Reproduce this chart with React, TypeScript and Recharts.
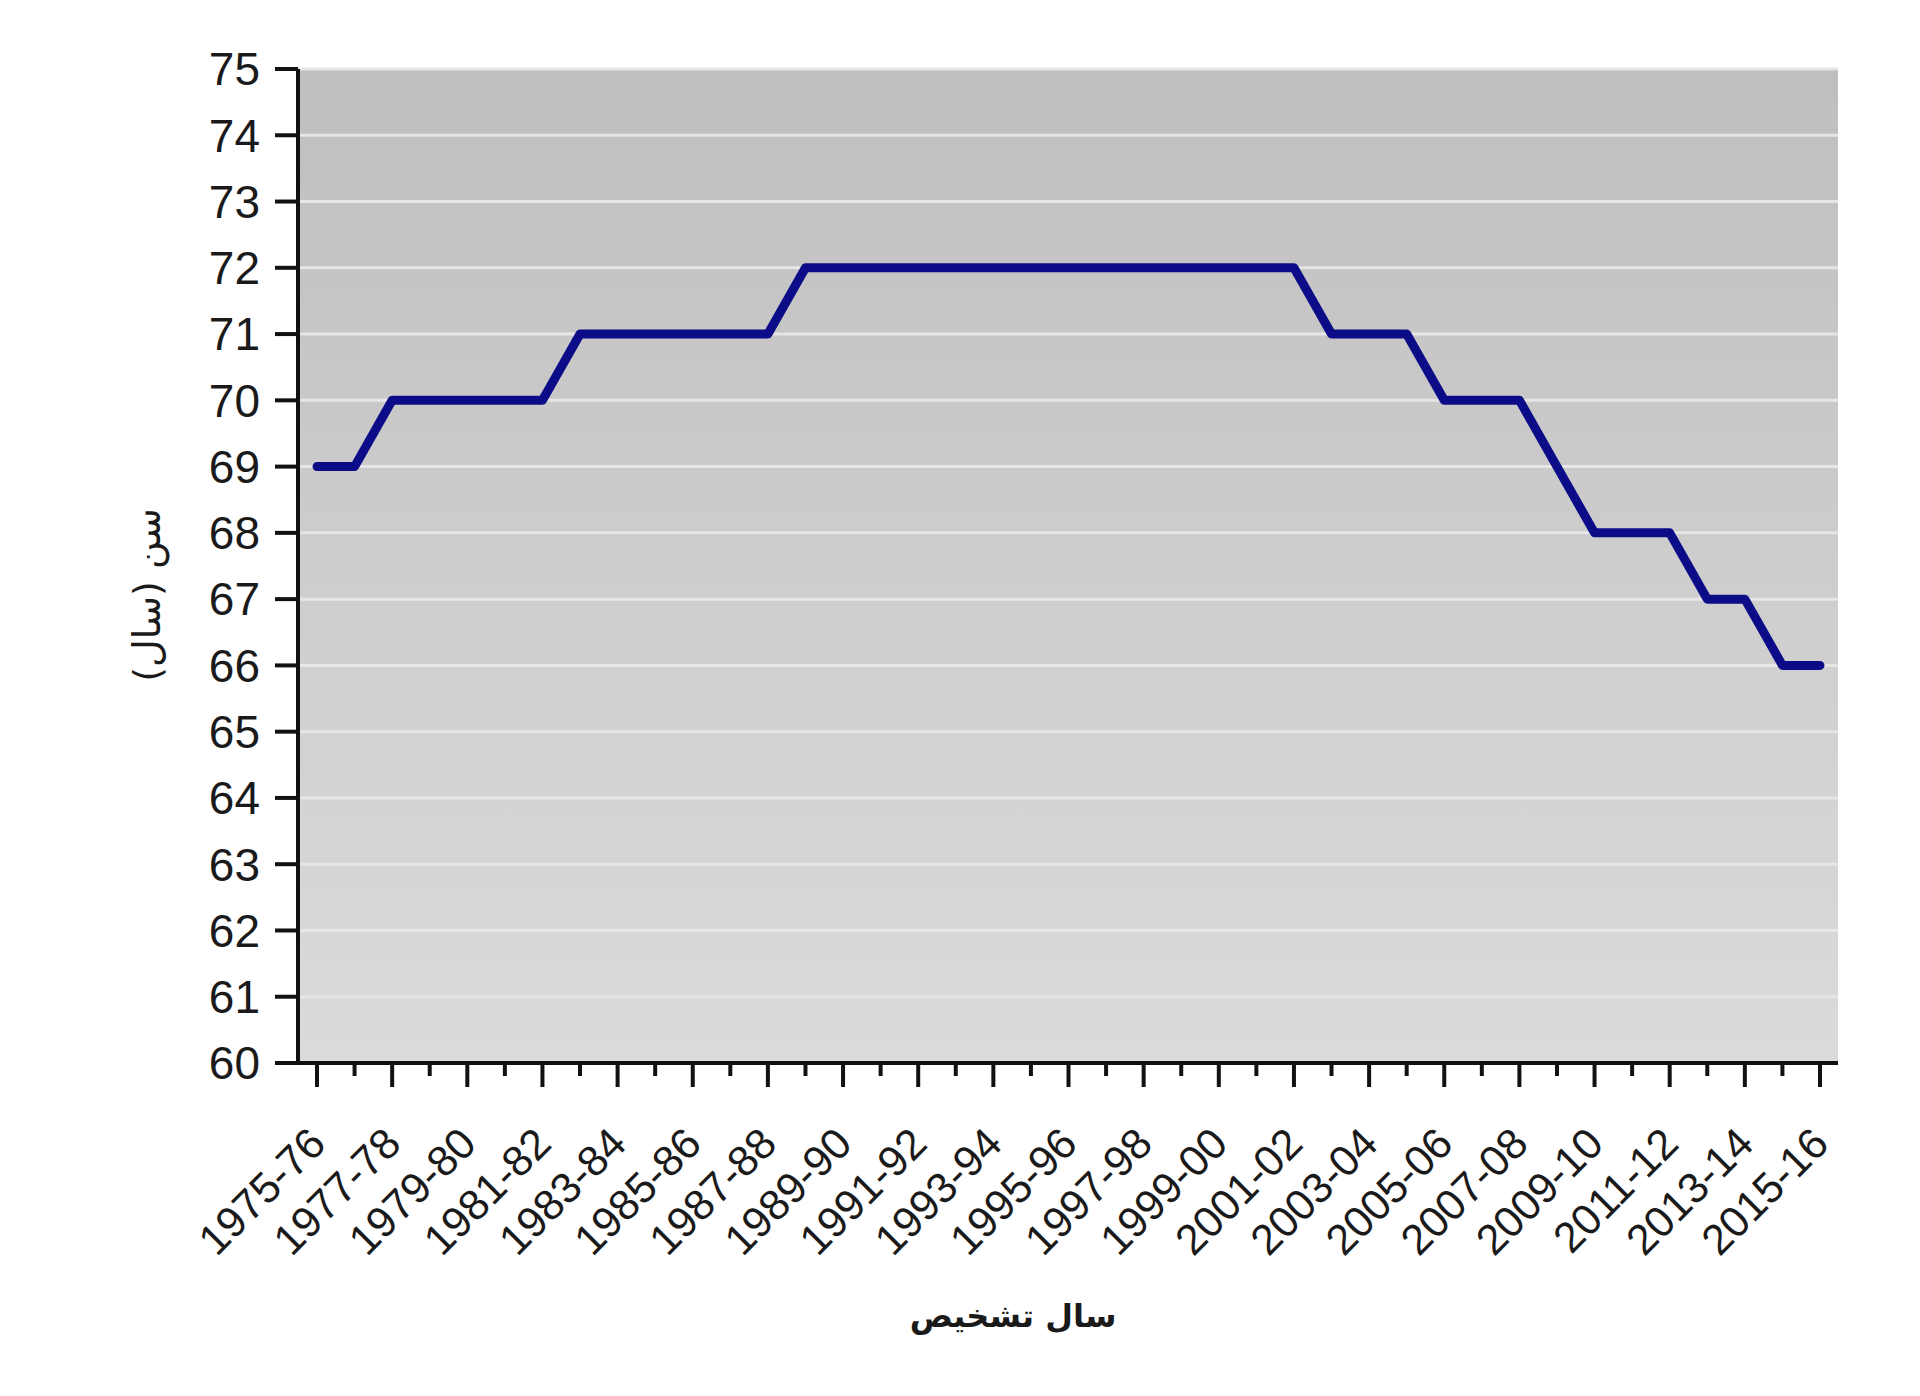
import React from "react";
import { CartesianGrid, Label, Line, LineChart, XAxis, YAxis } from "recharts";

const periods = [
  "1975-76", "1976-77", "1977-78", "1978-79", "1979-80", "1980-81", "1981-82", "1982-83",
  "1983-84", "1984-85", "1985-86", "1986-87", "1987-88", "1988-89", "1989-90", "1990-91",
  "1991-92", "1992-93", "1993-94", "1994-95", "1995-96", "1996-97", "1997-98", "1998-99",
  "1999-00", "2000-01", "2001-02", "2002-03", "2003-04", "2004-05", "2005-06", "2006-07",
  "2007-08", "2008-09", "2009-10", "2010-11", "2011-12", "2012-13", "2013-14", "2014-15",
  "2015-16",
];

const ages = [
  69, 69, 70, 70, 70, 70, 70, 71,
  71, 71, 71, 71, 71, 72, 72, 72,
  72, 72, 72, 72, 72, 72, 72, 72,
  72, 72, 72, 71, 71, 71, 70, 70,
  70, 69, 68, 68, 68, 67, 67, 66,
  66,
];

const yTicks = [60, 61, 62, 63, 64, 65, 66, 67, 68, 69, 70, 71, 72, 73, 74, 75];

const data = periods.map((period, i) => ({ period, age: ages[i] }));

const FONT = "'Liberation Sans', Arial, sans-serif";

function PeriodTick(props: any) {
  const { x, y, payload } = props;
  const major = payload.index % 2 === 0;
  return (
    <g>
      <line x1={x} y1={y} x2={x} y2={y + (major ? 24 : 13)} stroke="#111" strokeWidth={4} />
      {major && (
        <text
          x={x + 11}
          y={y + 83}
          textAnchor="end"
          transform={`rotate(-45 ${x + 11} ${y + 83})`}
          fontSize={43}
          fontFamily={FONT}
          fill="#1a1a1a"
        >
          {payload.value}
        </text>
      )}
    </g>
  );
}

export default function App() {
  return (
    <div style={{ position: "absolute", left: 0, top: 0, background: "#fff" }}>
      <LineChart
        width={1920}
        height={1396}
        data={data}
        margin={{ top: 69, right: 82, bottom: 0, left: 0 }}
      >
        <defs>
          <linearGradient id="plotBg" x1="0" y1="0" x2="0" y2="1">
            <stop offset="0%" stopColor="#bfbfbf" />
            <stop offset="100%" stopColor="#dbdbdb" />
          </linearGradient>
        </defs>
        <CartesianGrid
          vertical={false}
          fill="url(#plotBg)"
          fillOpacity={1}
          stroke="#e6e6e6"
          strokeWidth={3}
        />
        <XAxis
          dataKey="period"
          interval={0}
          height={333}
          padding={{ left: 19, right: 18 }}
          tickLine={false}
          tickSize={0}
          tickMargin={0}
          tick={<PeriodTick />}
          axisLine={{ stroke: "#111", strokeWidth: 4 }}
        >
          <Label
            content={() => (
              <text
                x={1013}
                y={1327}
                textAnchor="middle"
                fontSize={32}
                fontWeight="bold"
                fontFamily="'DejaVu Sans', sans-serif"
                fill="#1a1a1a"
              >
                سال تشخیص
              </text>
            )}
          />
        </XAxis>
        <YAxis
          domain={[60, 75]}
          ticks={yTicks}
          interval={0}
          width={298}
          tickSize={23}
          tickMargin={15}
          tickLine={{ stroke: "#111", strokeWidth: 4 }}
          axisLine={{ stroke: "#111", strokeWidth: 4 }}
          tick={{ fontSize: 46, fontFamily: FONT, fill: "#1a1a1a" }}
        >
          <Label
            content={() => (
              <text
                x={160}
                y={595}
                textAnchor="middle"
                transform="rotate(-90 160 595)"
                fontSize={38}
                fontFamily="'DejaVu Sans', sans-serif"
                fill="#1a1a1a"
              >
                سن (سال)
              </text>
            )}
          />
        </YAxis>
        <Line
          type="linear"
          dataKey="age"
          stroke="#0c0c88"
          strokeWidth={9}
          strokeLinecap="round"
          strokeLinejoin="round"
          dot={false}
          activeDot={false}
          isAnimationActive={false}
        />
      </LineChart>
    </div>
  );
}
